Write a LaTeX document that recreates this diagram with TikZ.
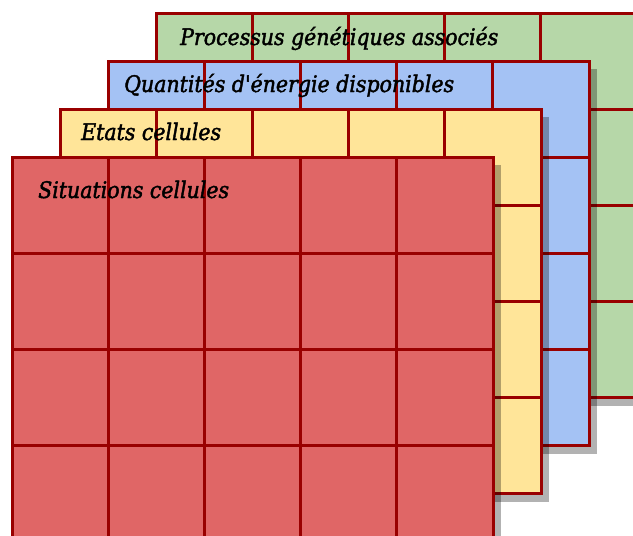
\documentclass[tikz,border=0pt]{standalone}
\usepackage{fontspec}
\newfontface\labelfont[FakeBold=1.8]{DejaVu Serif Condensed Italic}
\usetikzlibrary{shadows}
\definecolor{cgreen}{HTML}{B6D7A8}
\definecolor{cblue}{HTML}{A4C2F4}
\definecolor{cyellow}{HTML}{FFE599}
\definecolor{cred}{HTML}{E06666}
\definecolor{cborder}{HTML}{990000}
\tikzset{
  cell/.style={draw=cborder, line width=3pt, minimum size=96.2pt, inner sep=0pt, outer sep=0pt,
    drop shadow={shadow xshift=8pt, shadow yshift=-8pt, opacity=0.3, fill=black}},
  gtitle/.style={anchor=base west, inner sep=0pt, font=\labelfont\fontsize{22.8}{26}\selectfont, text=black}
}
\newcommand\mygrid[4]{%
  \foreach \r in {0,...,3}{
    \foreach \c in {0,...,4}{
      \node[cell, fill=#2] (#1-\r-\c) at ({#3+96.2*\c+48.1},{#4+96.2*\r+48.1}) {};
    }
  }
}
\begin{document}
\begin{tikzpicture}[x=1pt,y=-1pt]
\useasboundingbox (0,0) rectangle (633,536);
\clip (0,0) rectangle (633,536);
\mygrid{g}{cgreen}{156}{13}
\node[gtitle] (tg) at (180,45) {Processus génétiques associés};
\mygrid{b}{cblue}{108}{61}
\node[gtitle] (tb) at (124,92) {Quantités d'énergie disponibles};
\mygrid{y}{cyellow}{60}{109}
\node[gtitle] (ty) at (81,140) {Etats cellules};
\mygrid{r}{cred}{12}{157}
\node[gtitle] (tr) at (38,198) {Situations cellules};
\end{tikzpicture}
\end{document}
